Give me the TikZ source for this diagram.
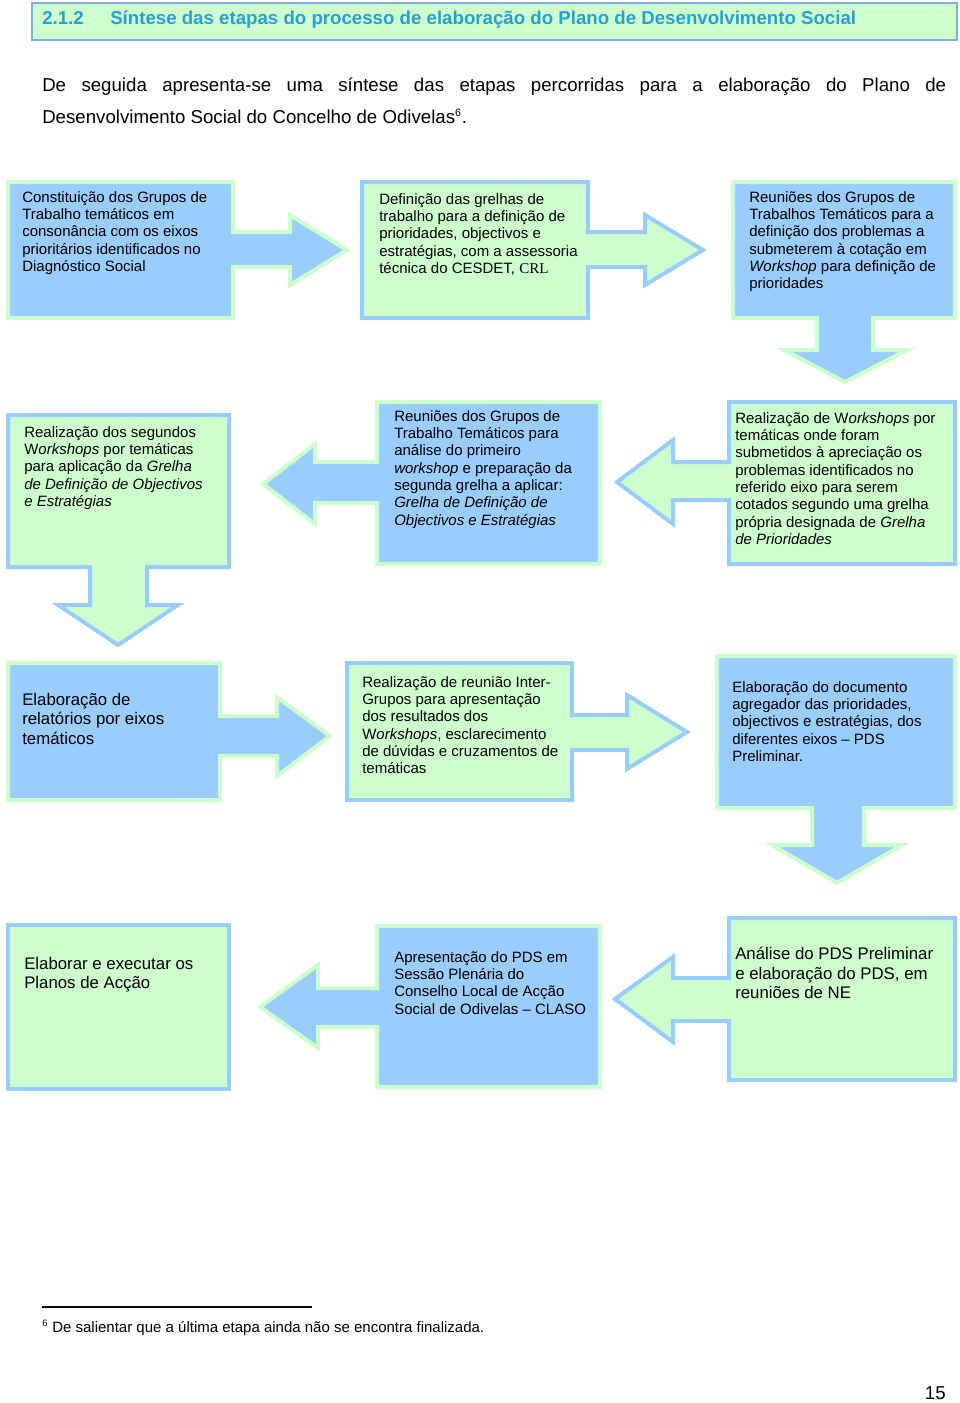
\documentclass[tikz,border=0pt]{standalone}
\usepackage{fontspec}
\setmainfont{Liberation Sans}
\newfontfamily\serifcrl{Liberation Serif}
\usepackage{tikz}
\definecolor{boxblue}{RGB}{153,204,255}
\definecolor{boxgreen}{RGB}{204,255,204}
\definecolor{headblue}{RGB}{40,160,210}
\definecolor{ruleblue}{RGB}{130,170,230}

\begin{document}
\begin{tikzpicture}[x=0.75pt,y=-0.75pt,
    bluebox/.style={fill=boxblue,draw=boxgreen,line width=3pt},
    greenbox/.style={fill=boxgreen,draw=boxblue,line width=3pt},
    txt/.style={anchor=north west,inner sep=0pt,align=left,font=\fontsize{11.25}{13}\selectfont},
    bigtxt/.style={txt,font=\fontsize{12.6}{14.6}\selectfont},
    body/.style={anchor=base west,inner sep=0pt,font=\fontsize{14}{16}\selectfont}]
        \useasboundingbox (0,0) rectangle (960,1403);

        % Heading
        \draw [fill=boxgreen,draw=ruleblue,line width=1.5pt] (32,3) rectangle (957,40);
        \node [body,text=headblue,font=\fontsize{14}{16}\selectfont\bfseries] (num) at (42,24) {2.1.2};
        \node [body,text=headblue,font=\fontsize{14}{16}\selectfont\bfseries] (title) at (110,24)
            {Síntese das etapas do processo de elaboração do Plano de Desenvolvimento Social};
        \node [body] (intro1) at (42,91)
            {\makebox[678pt][s]{De seguida apresenta-se uma síntese das etapas percorridas para a elaboração do Plano de}};
        \node [body] (intro2) at (42,123)
            {Desenvolvimento Social do Concelho de Odivelas\textsuperscript{\fontsize{8}{8}\selectfont 6}.};

        % First row
        \draw [bluebox] (8,182) -- (233,182) -- (233,232) -- (290,232) -- (290,215) -- (347,250)
            -- (290,285) -- (290,267) -- (233,267) -- (233,318) -- (8,318) -- cycle;
        \draw [greenbox] (362,182) -- (588,182) -- (588,232) -- (645,232) -- (645,215) -- (703,250)
            -- (645,285) -- (645,267) -- (588,267) -- (588,318) -- (362,318) -- cycle;
        \draw [bluebox] (733,182) -- (955,182) -- (955,318) -- (873,318) -- (873,350) -- (907,350)
            -- (845,382) -- (784,350) -- (817,350) -- (817,318) -- (733,318) -- cycle;
        \node [txt] (grupos) at (22,191) {Constituição dos Grupos de\\Trabalho temáticos em\\consonância com os eixos\\prioritários identificados no\\Diagnóstico Social};
        \node [txt] (grelhas) at (379,193) {Definição das grelhas de\\trabalho para a definição de\\prioridades, objectivos e\\estratégias, com a assessoria\\técnica do CESDET, {\serifcrl CRL}};
        \node [txt] (reunioes) at (749,191) {Reuniões dos Grupos de\\Trabalhos Temáticos para a\\definição dos problemas a\\submeterem à cotação em\\\textit{Workshop} para definição de\\prioridades};

        % Second row
        \draw [greenbox] (8,415) -- (229,415) -- (229,567) -- (147,567) -- (147,605) -- (178,605)
            -- (118,645) -- (58,605) -- (90,605) -- (90,567) -- (8,567) -- cycle;
        \draw [bluebox] (377,402) -- (600,402) -- (600,564) -- (377,564) -- (377,503) -- (315,503)
            -- (315,524) -- (263,484) -- (315,444) -- (315,462) -- (377,462) -- cycle;
        \draw [greenbox] (729,402) -- (955,402) -- (955,564) -- (729,564) -- (729,500) -- (673,500)
            -- (673,524) -- (617,482) -- (673,440) -- (673,462) -- (729,462) -- cycle;
        \node [txt] (segundos) at (24,426) {Realização dos segundos\\W\textit{orkshops} por temáticas\\para aplicação da \textit{Grelha}\\\textit{de Definição de Objectivos}\\\textit{e Estratégias}};
        \node [txt] (analise1) at (394,410) {Reuniões dos Grupos de\\Trabalho Temáticos para\\análise do primeiro\\\textit{workshop} e preparação da\\segunda grelha a aplicar:\\\textit{Grelha de Definição de}\\\textit{Objectivos e Estratégias}};
        \node [txt] (primeiros) at (735,412) {Realização de W\textit{orkshops} por\\temáticas onde foram\\submetidos à apreciação os\\problemas identificados no\\referido eixo para serem\\cotados segundo uma grelha\\própria designada de \textit{Grelha}\\\textit{de Prioridades}};

        % Third row
        \draw [bluebox] (8,663) -- (220,663) -- (220,716) -- (277,716) -- (277,697) -- (330,736)
            -- (277,776) -- (277,756) -- (220,756) -- (220,800) -- (8,800) -- cycle;
        \draw [greenbox] (347,663) -- (572,663) -- (572,715) -- (627,715) -- (627,695) -- (687,732)
            -- (627,769) -- (627,750) -- (572,750) -- (572,800) -- (347,800) -- cycle;
        \draw [bluebox] (717,656) -- (955,656) -- (955,808) -- (864,808) -- (864,845) -- (902,845)
            -- (837,883) -- (772,845) -- (812,845) -- (812,808) -- (717,808) -- cycle;
        \node [bigtxt] (relatorios) at (22,693) {Elaboração de\\relatórios por eixos\\temáticos};
        \node [txt] (intergrupos) at (362,676) {Realização de reunião Inter-\\Grupos para apresentação\\dos resultados dos\\W\textit{orkshops}, esclarecimento\\de dúvidas e cruzamentos de\\temáticas};
        \node [txt] (agregador) at (732,681) {Elaboração do documento\\agregador das prioridades,\\objectivos e estratégias, dos\\diferentes eixos -- PDS\\Preliminar.};

        % Fourth row
        \draw [greenbox] (8,925) rectangle (229,1089);
        \draw [bluebox] (377,926) -- (600,926) -- (600,1087) -- (377,1087) -- (377,1027) -- (318,1027)
            -- (318,1048) -- (260,1007) -- (318,965) -- (318,988) -- (377,988) -- cycle;
        \draw [greenbox] (729,918) -- (955,918) -- (955,1080) -- (729,1080) -- (729,1021) -- (673,1021)
            -- (673,1042) -- (615,999) -- (673,957) -- (673,978) -- (729,978) -- cycle;
        \node [bigtxt] (planos) at (24,957) {Elaborar e executar os\\Planos de Acção};
        \node [txt] (plenario) at (394,951) {Apresentação do PDS em\\Sessão Plenária do\\Conselho Local de Acção\\Social de Odivelas -- CLASO};
        \node [bigtxt] (ne) at (735,947) {Análise do PDS Preliminar\\e elaboração do PDS, em\\reuniões de NE};

        % Footnote
        \coordinate (fnl) at (42,1307);
        \coordinate (fnr) at (312,1307);
        \draw [line width=1pt] (fnl) -- (fnr);
        \node [body,font=\fontsize{11.25}{13}\selectfont] (fn) at (42,1332)
            {\textsuperscript{\fontsize{7}{7}\selectfont 6} De salientar que a última etapa ainda não se encontra finalizada.};
        \node [body,anchor=base east] (page) at (946,1399) {15};
\end{tikzpicture}
\end{document}
